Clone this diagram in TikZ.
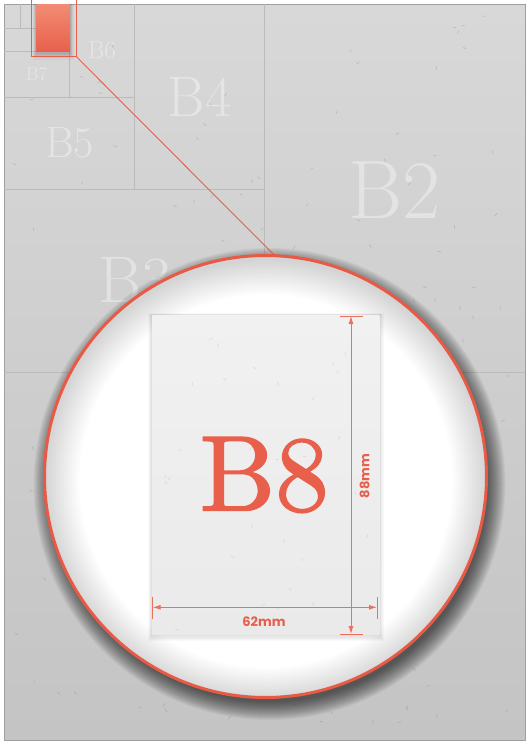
\documentclass[tikz,border=0pt]{standalone}
\usepackage{fontspec}
\newfontfamily\dimfont{Poppins}
\newfontfamily\bigfont[FakeBold=1.6]{lmroman10-regular.otf}
\usetikzlibrary{arrows.meta,shadings}
\definecolor{sheetTop}{HTML}{D8D8D8}
\definecolor{sheetBot}{HTML}{C4C4C4}
\definecolor{gridc}{HTML}{BBBBBB}
\definecolor{redc}{HTML}{E8604C}
\definecolor{redlight}{HTML}{F28C74}
\definecolor{rimred}{HTML}{E85A45}
\definecolor{dimred}{HTML}{EE6F5D}
\definecolor{cardTop}{HTML}{F1F1F1}
\definecolor{cardBot}{HTML}{EAEAEA}
\pgfdeclareradialshading{lensrim}{\pgfpoint{0bp}{-0.8bp}}{color(0bp)=(white); color(21bp)=(white); color(25bp)=(black!17); color(50bp)=(black!17)}
\tikzset{
  gridline/.style={draw=gridc, line width=0.8pt},
  bglabel/.style={text=white, text opacity=0.38, inner sep=0pt},
  dimline/.style={draw=dimred, line width=0.9pt},
  dimarrow/.style={dimline, {Latex[length=8pt,width=5pt]}-{Latex[length=8pt,width=5pt]}},
  dimtext/.style={text=redc, inner sep=0pt, font=\dimfont\bfseries\fontsize{13}{13}\selectfont},
  speck/.style={draw=black!55, opacity=0.3, line width=0.6pt},
}
\begin{document}
\begin{tikzpicture}[x=1pt,y=-1pt]
\useasboundingbox (0,0) rectangle (529,744);
\fill[white] (0,0) rectangle (529,744);
% sheet
\shade[top color=sheetTop, bottom color=sheetBot] (4,4) rectangle (525,740);
\draw[draw=gridc!85!black, line width=0.8pt] (4,4) rectangle (525,740);
% paper texture
\pgfmathsetseed{12}
\foreach \k in {1,...,110} {
  \pgfmathsetmacro\sx{10+rnd*505}
  \pgfmathsetmacro\sy{10+rnd*725}
  \pgfmathsetmacro\sa{rnd*180}
  \draw[speck, rotate around={\sa:(\sx,\sy)}] (\sx,\sy) -- ++(3.5,0);
}
% B-series subdivision
\draw[gridline] (264.5,4) -- (264.5,372);
\draw[gridline] (4,372) -- (525,372);
\draw[gridline] (4,189.3) -- (264.5,189.3);
\draw[gridline] (134.6,4) -- (134.6,189.3);
\draw[gridline] (4,97.3) -- (134.6,97.3);
\draw[gridline] (69.5,4) -- (69.5,97.3);
\draw[gridline] (4,51.3) -- (69.5,51.3);
\draw[gridline] (36.6,4) -- (36.6,51.3);
\draw[gridline] (4,28.3) -- (36.6,28.3);
\draw[gridline] (20.5,4) -- (20.5,28.3);
% labels
\node[bglabel, font=\fontsize{83}{83}\selectfont] (lblB2) at (394.5,190) {B2};
\node[bglabel, font=\fontsize{66}{66}\selectfont] (lblB3) at (135,280.5) {B3};
\node[bglabel, font=\fontsize{57}{57}\selectfont] (lblB4) at (199.5,97.5) {B4};
\node[bglabel, font=\fontsize{44}{44}\selectfont] (lblB5) at (69.5,143.3) {B5};
\node[bglabel, font=\fontsize{25}{25}\selectfont] (lblB6) at (102,50.5) {B6};
\node[bglabel, font=\fontsize{19}{19}\selectfont] (lblB7) at (36.8,74.5) {B7};
% small B8 sheet with shadow
\foreach \i in {1,...,6} {
  \fill[black, opacity=0.035] ({36.6-0.6*\i},4) rectangle ({70+0.6*\i},{52.3+1.2*\i});
}
\node[top color=redlight, bottom color=redc, minimum width=33.4pt, minimum height=47.3pt, inner sep=0pt] (b8mini) at (53.3,27.65) {};
\node[draw=redc, line width=0.8pt, minimum width=44.7pt, minimum height=60.3pt, inner sep=0pt] (zoomframe) at (53.65,26.15) {};
% lens shadow
\foreach \i in {0,...,18} {
  \fill[black, opacity=0.04] (269.5,484) circle ({(236-\i)*1pt});
}
\node[circle, draw=rimred, line width=3pt, minimum size=442pt, inner sep=0pt, shade, shading=lensrim] (lens) at (265.5,476.5) {};
\draw[redc, line width=0.9pt] (zoomframe.south east) -- (lens.88.4);
% card
\foreach \i in {1,...,6} {
  \fill[black, opacity=0.025] ({152.3-0.7*\i},{315-0.3*\i}) rectangle ({379.3+0.7*\i},{634+1.2*\i});
}
\node[top color=cardTop, bottom color=cardBot, minimum width=227pt, minimum height=319pt, inner sep=0pt] (card) at (265.8,474.5) {};
\begin{scope}
\clip (152.3,315) rectangle (379.3,634);
\pgfmathsetseed{5}
\foreach \k in {1,...,30} {
  \pgfmathsetmacro\sx{156+rnd*220}
  \pgfmathsetmacro\sy{320+rnd*310}
  \pgfmathsetmacro\sa{rnd*180}
  \draw[speck, opacity=0.18, rotate around={\sa:(\sx,\sy)}] (\sx,\sy) -- ++(3.5,0);
}
\end{scope}
\node[text=redc, inner sep=0pt, font=\bigfont\fontsize{107}{107}\selectfont] (b8text) at (264.2,475) {B8};
% vertical dimension
\coordinate (vtop) at (351,316);
\coordinate (vbot) at (351,634);
\coordinate (vtopL) at (340,316);
\coordinate (vtopR) at (363,316);
\coordinate (vbotL) at (340,634);
\coordinate (vbotR) at (363,634);
\draw[dimline] (vtopL) -- (vtopR);
\draw[dimline] (vbotL) -- (vbotR);
\draw[dimarrow] (vtop) -- (vbot);
\node[dimtext, rotate=90] (lbl88) at (364.5,476) {88mm};
% horizontal dimension
\coordinate (hleft) at (152.7,607.3);
\coordinate (hright) at (377,607.3);
\coordinate (hleftT) at (152.7,597);
\coordinate (hleftB) at (152.7,619);
\coordinate (hrightT) at (377,597);
\coordinate (hrightB) at (377,619);
\draw[dimline] (hleftT) -- (hleftB);
\draw[dimline] (hrightT) -- (hrightB);
\draw[dimarrow] (hleft) -- (hright);
\node[dimtext] (lbl62) at (264,621.5) {62mm};
\end{tikzpicture}
\end{document}
